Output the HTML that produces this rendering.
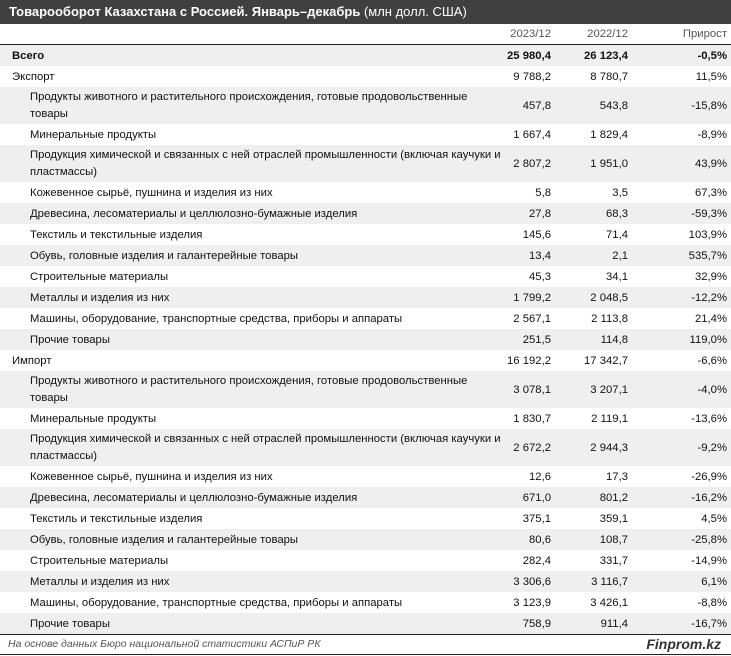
<!DOCTYPE html>
<html><head><meta charset="utf-8"><style>
body{margin:0;width:731px;height:656px;background:#fff;font-family:"Liberation Sans",sans-serif;font-size:11.3px;color:#111;position:relative;overflow:hidden}
.t{position:absolute;left:0;top:0;width:731px;height:24px;background:#404040;color:#fff;font-size:13px;line-height:24px;padding-left:9px;box-sizing:border-box}
.h{position:absolute;top:24px;height:20px;width:731px;border-bottom:1.5px solid #222;color:#555}
.r{position:absolute;left:0;width:731px}
.g{background:#efefef}
.l,.n{position:absolute;top:0;bottom:0;display:flex;align-items:center;line-height:14px}
.l.two{line-height:17px}
.n{justify-content:flex-end}
.c1{right:180px}.c2{right:103px}.c3{right:4px}
.f{position:absolute;top:634px;height:19px;width:731px;border-top:1.5px solid #222;border-bottom:1.5px solid #222;font-style:italic;color:#555;font-size:10.5px;line-height:19px}
</style></head><body>
<div class="t"><b style="font-weight:bold">Товарооборот Казахстана с Россией. Январь–декабрь</b> (млн долл. США)</div>
<div class="h"><span class="n c1">2023/12</span><span class="n c2">2022/12</span><span class="n c3">Прирост</span></div>
<div id="rows"></div>
<div class="f"><span style="position:absolute;left:8px">На основе данных Бюро национальной статистики АСПиР РК</span><span style="position:absolute;right:10px;font-weight:bold;font-size:14px;color:#333">Finprom.kz</span></div>
<script>
var P1="Продукты животного и растительного происхождения, готовые продовольственные<br>товары";
var P2="Продукция химической и связанных с ней отраслей промышленности (включая каучуки и<br>пластмассы)";
var d=[["Всего","25 980,4","26 123,4","-0,5%",0,1],["Экспорт","9 788,2","8 780,7","11,5%",0],
[P1,"457,8","543,8","-15,8%",1],
["Минеральные продукты","1 667,4","1 829,4","-8,9%",1],
[P2,"2 807,2","1 951,0","43,9%",1],
["Кожевенное сырьё, пушнина и изделия из них","5,8","3,5","67,3%",1],
["Древесина, лесоматериалы и целлюлозно-бумажные изделия","27,8","68,3","-59,3%",1],
["Текстиль и текстильные изделия","145,6","71,4","103,9%",1],
["Обувь, головные изделия и галантерейные товары","13,4","2,1","535,7%",1],
["Строительные материалы","45,3","34,1","32,9%",1],
["Металлы и изделия из них","1 799,2","2 048,5","-12,2%",1],
["Машины, оборудование, транспортные средства, приборы и аппараты","2 567,1","2 113,8","21,4%",1],
["Прочие товары","251,5","114,8","119,0%",1],
["Импорт","16 192,2","17 342,7","-6,6%",0],
[P1,"3 078,1","3 207,1","-4,0%",1],
["Минеральные продукты","1 830,7","2 119,1","-13,6%",1],
[P2,"2 672,2","2 944,3","-9,2%",1],
["Кожевенное сырьё, пушнина и изделия из них","12,6","17,3","-26,9%",1],
["Древесина, лесоматериалы и целлюлозно-бумажные изделия","671,0","801,2","-16,2%",1],
["Текстиль и текстильные изделия","375,1","359,1","4,5%",1],
["Обувь, головные изделия и галантерейные товары","80,6","108,7","-25,8%",1],
["Строительные материалы","282,4","331,7","-14,9%",1],
["Металлы и изделия из них","3 306,6","3 116,7","6,1%",1],
["Машины, оборудование, транспортные средства, приборы и аппараты","3 123,9","3 426,1","-8,8%",1],
["Прочие товары","758,9","911,4","-16,7%",1]];
var y=45,h="";
d.forEach(function(r,i){var two=r[0].indexOf("<br>")>=0,hh=two?37:21;
h+='<div class="r'+(i%2==0?' g':'')+'" style="top:'+y+'px;height:'+hh+'px;'+(r[5]?'font-weight:bold':'')+'"><span class="l'+(two?' two':'')+'" style="left:'+(r[4]?30:12)+'px;width:600px;white-space:nowrap">'+r[0]+'</span><span class="n c1">'+r[1]+'</span><span class="n c2">'+r[2]+'</span><span class="n c3">'+r[3]+'</span></div>';y+=hh;});
document.getElementById('rows').innerHTML=h;
</script>
</body></html>
